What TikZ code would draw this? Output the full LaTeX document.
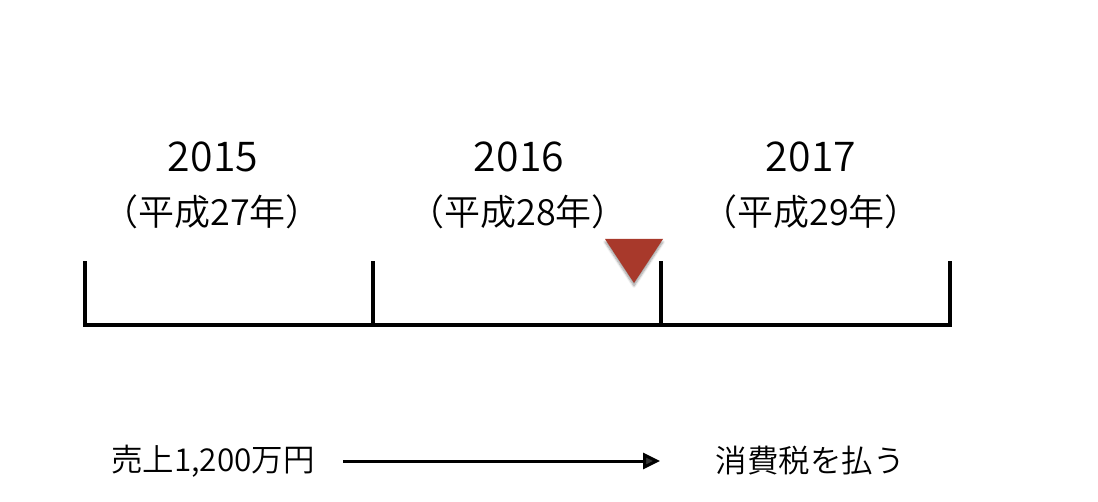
\documentclass[tikz,border=0pt]{standalone}
\usepackage{fontspec}
\setmainfont{Noto Sans CJK JP}[UprightFont={* DemiLight}]
\usetikzlibrary{arrows.meta,shadows.blur}
\definecolor{marker}{HTML}{A8392B}
\tikzset{
  year/.style={font=\fontsize{41}{46}\selectfont, anchor=center, inner sep=0pt},
  era/.style={font=\fontsize{36}{40}\selectfont, anchor=center, inner sep=0pt},
  label/.style={font=\fontsize{31.5}{36}\selectfont, anchor=center, inner sep=0pt},
  axis/.style={line width=3.5pt, line cap=rect},
  flow/.style={line width=3pt, -{Triangle[length=17pt,width=16pt]}},
}
\begin{document}
\begin{tikzpicture}[x=1pt,y=-1pt]
\useasboundingbox (0,0) rectangle (1098,502);
% year labels
\node[year] (y1) at (213,157) {2015};
\node[year] (y2) at (519,157) {2016};
\node[year] (y3) at (811,157) {2017};
\node[era] (g1) at (212,212) {（平成27年）};
\node[era] (g2) at (518,212) {（平成28年）};
\node[era] (g3) at (811,212) {（平成29年）};
% timeline
\coordinate (t0) at (85,263);
\coordinate (t1) at (373,263);
\coordinate (t2) at (661,263);
\coordinate (t3) at (950,263);
\coordinate (b0) at (85,325);
\coordinate (b1) at (373,325);
\coordinate (b2) at (661,325);
\coordinate (b3) at (950,325);
\draw[axis] (t0) -- (b0) -- (b3) -- (t3);
\draw[axis] (t1) -- (b1);
\draw[axis] (t2) -- (b2);
% marker triangle
\fill[marker, blur shadow={shadow xshift=0pt, shadow yshift=-3pt, shadow blur steps=6, shadow opacity=40}]
  (605,239) -- (663,239) -- (634,283) -- cycle;
% bottom
\node[label] (sales) at (213,461) {売上1,200万円};
\node[label] (tax) at (810,461) {消費税を払う};
\coordinate (as) at (343,461);
\coordinate (ae) at (660,461);
\draw[flow] (as) -- (ae);
\end{tikzpicture}
\end{document}
